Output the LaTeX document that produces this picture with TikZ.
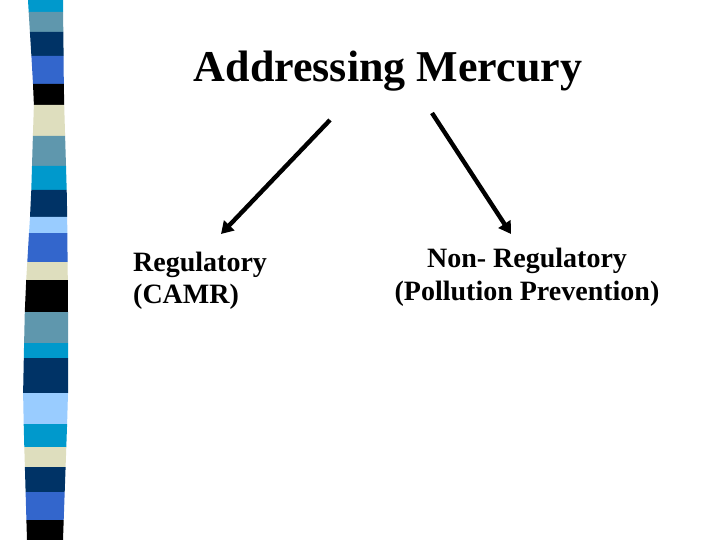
\documentclass[tikz,border=0pt]{standalone}
\usepackage{fontspec}
\setmainfont{Liberation Serif}
\usetikzlibrary{arrows.meta}
\definecolor{cyanb}{HTML}{0099CC}
\definecolor{steelb}{HTML}{5F97AD}
\definecolor{navyb}{HTML}{003366}
\definecolor{royalb}{HTML}{3366CC}
\definecolor{beigeb}{HTML}{DEDEBE}
\definecolor{lightb}{HTML}{99CCFF}
\newcommand\stripeband[7]{\fill[#7] (#3,#1) -- (#4,#1) -- (#6,#2) -- (#5,#2) -- cycle;}
\tikzset{
  label/.style={font=\bfseries\fontsize{28}{32.5}\selectfont, inner sep=0pt},
  arr/.style={line width=4.4pt, -{Triangle[length=12pt,width=14pt]}}
}
\begin{document}
\begin{tikzpicture}[x=1pt,y=-1pt]
\useasboundingbox (0,0) rectangle (720,540);
\fill[white] (0,0) rectangle (720,540);
\stripeband{0}{12}{28}{63}{28.7}{63.1}{cyanb}
\stripeband{12}{32}{28.7}{63.1}{29.9}{63.3}{steelb}
\stripeband{32}{56}{29.9}{63.3}{31.4}{63.6}{navyb}
\stripeband{56}{84}{31.4}{63.6}{33}{63.8}{royalb}
\stripeband{84}{105}{33}{63.8}{33.9}{64.2}{black}
\stripeband{105}{136}{33.9}{64.2}{32.9}{65.1}{beigeb}
\stripeband{136}{166}{32.9}{65.1}{32}{66}{steelb}
\stripeband{166}{190}{32}{66}{31.3}{66.7}{cyanb}
\stripeband{190}{217}{31.3}{66.7}{30}{67.2}{navyb}
\stripeband{217}{233}{30}{67.2}{29}{67.3}{lightb}
\stripeband{233}{262}{29}{67.3}{27.3}{67.6}{royalb}
\stripeband{262}{280}{27.3}{67.6}{26.2}{67.8}{beigeb}
\stripeband{280}{312}{26.2}{67.8}{24.8}{68}{black}
\stripeband{312}{343}{24.8}{68}{24.1}{68}{steelb}
\stripeband{343}{358}{24.1}{68}{23.8}{68}{cyanb}
\stripeband{358}{393}{23.8}{68}{23.1}{68}{navyb}
\stripeband{393}{424}{23.1}{68}{23.7}{67.1}{lightb}
\stripeband{424}{447}{23.7}{67.1}{24.3}{66.3}{cyanb}
\stripeband{447}{467}{24.3}{66.3}{24.9}{65.6}{beigeb}
\stripeband{467}{492}{24.9}{65.6}{25.6}{64.7}{navyb}
\stripeband{492}{520}{25.6}{64.7}{26.4}{63.7}{royalb}
\stripeband{520}{540}{26.4}{63.7}{27}{63}{black}

\node[font=\bfseries\fontsize{44}{48}\selectfont, inner sep=0pt, anchor=base] (title) at (388,82) {Addressing Mercury};
\node[label, align=left, anchor=base west] (reg) at (133,303.5) {Regulatory\\(CAMR)};
\node[label, align=center, anchor=base] (nonreg) at (527,300) {Non- Regulatory\\(Pollution Prevention)};

\coordinate (l1) at (330,120);
\coordinate (l2) at (221,234);
\coordinate (r1) at (432,113);
\coordinate (r2) at (511,234);
\draw[arr] (l1) -- (l2);
\draw[arr] (r1) -- (r2);
\end{tikzpicture}
\end{document}
